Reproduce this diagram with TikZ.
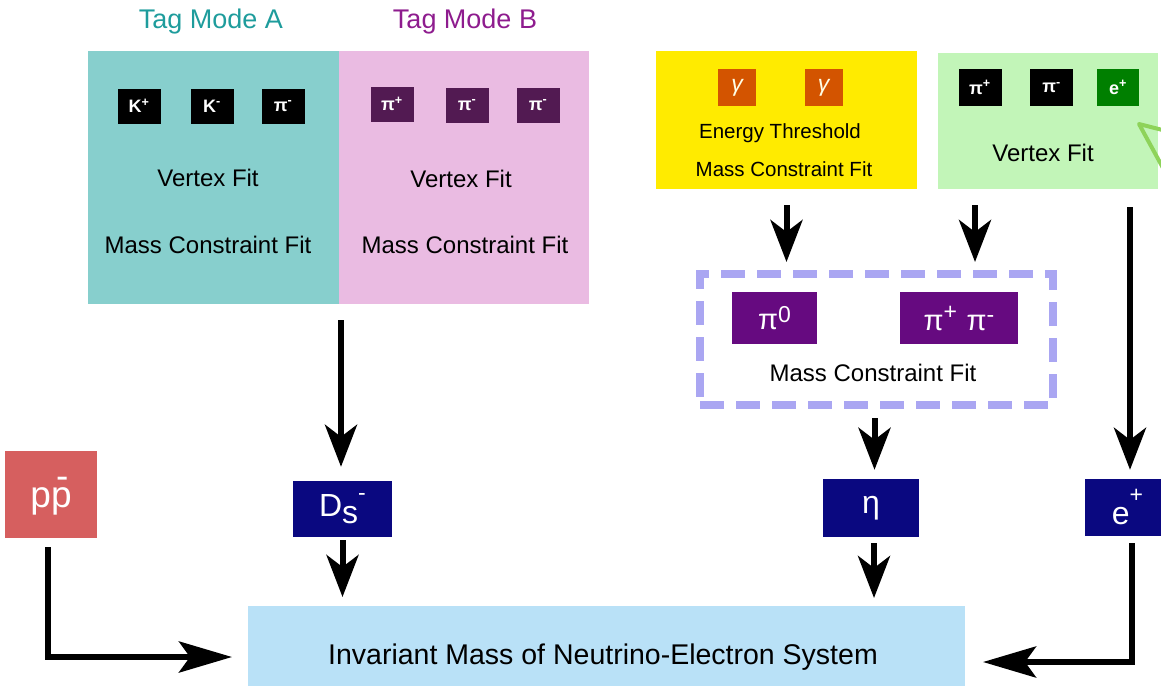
\documentclass[tikz,border=0pt]{standalone}
\usepackage{fontspec}
\setmainfont{Liberation Sans}
\usetikzlibrary{arrows.meta,positioning,calc}
\definecolor{tealfill}{HTML}{87CFCD}
\definecolor{pinkfill}{HTML}{EABBE2}
\definecolor{tealtext}{HTML}{1E9C9C}
\definecolor{purpletext}{HTML}{8E1C8E}
\definecolor{plum}{HTML}{521A52}
\definecolor{yellowfill}{HTML}{FFEB00}
\definecolor{gammafill}{HTML}{D35400}
\definecolor{greenfill}{HTML}{C2F5B8}
\definecolor{egreen}{HTML}{007F00}
\definecolor{dashblue}{HTML}{AAA6F2}
\definecolor{pionfill}{HTML}{660A80}
\definecolor{navy}{HTML}{0A0880}
\definecolor{ppfill}{HTML}{D65F5F}
\definecolor{invfill}{HTML}{B9E1F7}
\definecolor{strokegreen}{HTML}{8ED35A}
\newcommand{\charge}[2][11pt]{\raisebox{#1}{\fontsize{23}{23}\selectfont #2}}

\begin{document}
\begin{tikzpicture}[x=1pt, y=-1pt,
    txt/.style={font=\fontsize{24}{28}\selectfont},
    small txt/.style={font=\fontsize{20.5}{24}\selectfont},
    panel/.style={inner sep=0pt, outer sep=0pt},
    badge/.style={minimum width=43pt, minimum height=35pt, inner sep=0pt, text=white, font=\fontsize{18}{18}\selectfont\bfseries},
    gamma/.style={badge, fill=gammafill, minimum width=38pt, minimum height=37pt, text=white!90!yellow, font=\fontsize{23}{23}\selectfont\itshape},
    particle/.style={fill=navy, text=white, inner sep=0pt, font=\fontsize{32}{32}\selectfont},
    pion/.style={particle, fill=pionfill, minimum height=52pt, font=\fontsize{29}{29}\selectfont},
    arr/.style={line width=6pt, -{Stealth[length=42pt, width=32pt, inset=12pt]}},
    longarr/.style={line width=6pt, -{Stealth[length=53pt, width=31pt, inset=11pt]}}]

\useasboundingbox (0,0) rectangle (1161,686);

% tag modes
\node (modeA) [panel, fill=tealfill, minimum width=251pt, minimum height=253pt] at (213.5,177.5) {};
\node (modeB) [panel, fill=pinkfill, minimum width=250pt, minimum height=253pt, right=0pt of modeA] {};
\node (titleA) [text=tealtext, font=\fontsize{27}{30}\selectfont] at (211,22) {Tag Mode A};
\node (titleB) [text=purpletext, font=\fontsize{27}{30}\selectfont] at (465,22) {Tag Mode B};

\node (kp) [badge, fill=black] at (139,106) {K\textsuperscript{+}};
\node (km) [badge, fill=black] at (212,106) {K\textsuperscript{-}};
\node (pimA) [badge, fill=black] at (283,106) {π\textsuperscript{-}};
\node (vfA) [txt] at (208,178) {Vertex Fit};
\node (mcA) [txt] at (208,245) {Mass Constraint Fit};

\node (pipB) [badge, fill=plum] at (392,104) {π\textsuperscript{+}};
\node (pimB) [badge, fill=plum] at (467,105) {π\textsuperscript{-}};
\node (pimC) [badge, fill=plum] at (538,105) {π\textsuperscript{-}};
\node (vfB) [txt] at (461,179) {Vertex Fit};
\node (mcB) [txt] at (465,245) {Mass Constraint Fit};

% eta side
\node (photon) [panel, fill=yellowfill, minimum width=261pt, minimum height=138pt] at (786.5,120) {};
\node (g1) [gamma] at (737,87.5) {γ};
\node (g2) [gamma] at (823.5,87.5) {γ};
\node (thr) [small txt] at (780,133) {Energy Threshold};
\node (mcY) [small txt] at (784,169) {Mass Constraint Fit};

\node (tracks) [panel, fill=greenfill, minimum width=220pt, minimum height=136pt] at (1048,121) {};
\node (pipG) [badge, fill=black, minimum height=37pt] at (980,87.5) {π\textsuperscript{+}};
\node (pimG) [badge, fill=black, minimum height=37pt] at (1051.5,87.5) {π\textsuperscript{-}};
\node (epG) [badge, fill=egreen, minimum width=42pt, minimum height=37pt] at (1118,87.5) {e\textsuperscript{+}};
\node (vfG) [txt] at (1043,153) {Vertex Fit};
\draw[strokegreen, line width=4pt, line join=round] (1182,135) -- (1139,124) -- (1175,190);

\node (fitbox) [panel, draw=dashblue, line width=8pt, dash pattern=on 24pt off 12pt, minimum width=353pt, minimum height=131pt] at (876.5,339.5) {};
\node (pi0) [pion, minimum width=85pt] at (774.5,318) {π\charge[7pt]{0}};
\node (pipm) [pion, minimum width=118pt] at (959,318) {π\charge{+}\,\,π\charge[8pt]{-}};
\node (mcE) [txt] at (873,373) {Mass Constraint Fit};

% reconstructed particles
\node (pp) [particle, fill=ppfill, minimum width=92pt, minimum height=87pt, text height=25pt, text depth=0pt, font=\fontsize{37}{37}\selectfont] at (51,494.5) {p\rlap{\smash{\hspace{0.14em}\raisebox{0.5em}{-}}}p};
\node (ds) [particle, minimum width=99pt, minimum height=56pt] at (342.5,509) {D\raisebox{-7pt}{s}\charge[16pt]{-}};
\node (eta) [particle, minimum width=96pt, minimum height=58pt] at (871,508) {η};
\node (ep) [particle, minimum width=85pt, minimum height=57pt] at (1127.5,507.5) {e\charge[22pt]{+}};
\node (inv) [panel, fill=invfill, minimum width=717pt, minimum height=80pt] at (606.5,646) {};
\node (invtxt) [font=\fontsize{28.5}{32}\selectfont] at (603,657) {Invariant Mass of Neutrino-Electron System};

% arrows
\coordinate (tagout) at ($(modeA.south east)+(2,0)$);
\coordinate (etaout) at ($(eta.south)+(3,0)$);
\coordinate (fitout) at ($(fitbox.south)+(-2,0)$);
\coordinate (etrack) at ($(tracks.south east)+(-28,0)$);
\coordinate (pitrack) at ($(tracks.south west)+(37,0)$);
\draw[arr, shorten <=16pt, shorten >=14pt] (tagout) -- (tagout |- ds.north);
\draw[arr, shorten <=16pt, shorten >=12pt] (photon.south) -- (photon.south |- fitbox.north);
\draw[arr, shorten <=16pt, shorten >=12pt] (pitrack) -- (pitrack |- fitbox.north);
\draw[arr, shorten <=13pt, shorten >=9pt] (fitout) -- (fitout |- eta.north);
\draw[arr, shorten <=18pt, shorten >=9pt] (etrack) -- (etrack |- ep.north);
\draw[arr, shorten <=3pt, shorten >=9pt] (ds.south) -- (ds.south |- inv.north);
\draw[arr, shorten <=6pt, shorten >=8pt] (etaout) -- (etaout |- inv.north);
\draw[longarr, shorten <=9pt, shorten >=16pt] ($(pp.south)+(-3,0)$) |- ($(inv.west)+(0,11)$);
\draw[longarr, shorten <=7pt, shorten >=18pt] ($(ep.south)+(4,0)$) |- ($(inv.east)+(0,16)$);
\end{tikzpicture}
\end{document}
